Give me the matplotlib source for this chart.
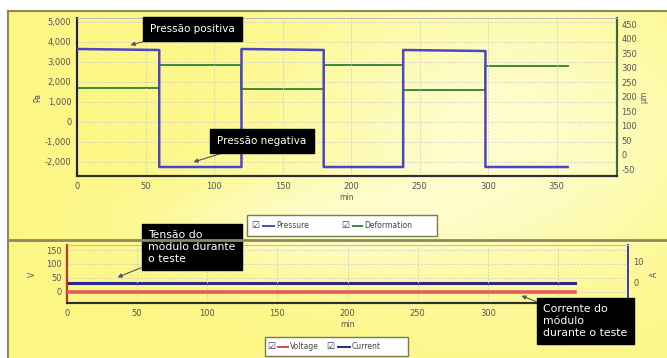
import numpy as np
import matplotlib
matplotlib.use("Agg")
import matplotlib.pyplot as plt
from matplotlib.lines import Line2D
from matplotlib.patches import Rectangle
from matplotlib.ticker import FuncFormatter

plt.rcParams["axes.unicode_minus"] = False

# pressure / deformation test (min)
t_press = [0, 60, 60, 120, 120, 180, 180, 238, 238, 298, 298, 358]
pressure = [3650, 3600, -2250, -2250, 3650, 3600, -2250, -2250, 3600, 3550, -2250, -2250]
deformation = [230, 230, 310, 310, 228, 228, 310, 310, 222, 222, 308, 308]

# electrical module data (min)
t_elec = [0, 362]
voltage = [0, 0]
current = [0.2, 0.2]

x_ticks = [0, 50, 100, 150, 200, 250, 300, 350]
x_labels_bottom = ["0", "50", "100", "150", "200", "250", "300", ""]
press_ticks = [-2000, -1000, 0, 1000, 2000, 3000, 4000, 5000]
deform_ticks = [-50, 0, 50, 100, 150, 200, 250, 300, 350, 400, 450]
volt_ticks = [0, 50, 100, 150]
curr_ticks = [0, 10]

W, H = 667, 358
fig = plt.figure(figsize=(W / 100, H / 100), dpi=100)


def fx(x):
    return x / W


def fy(y):
    return 1 - y / H


# yellow background
bg = fig.add_axes([fx(8), 0, 1 - fx(8), fy(11)])
gx, gy = np.meshgrid(np.linspace(0, 1, 200), np.linspace(0, 1, 120))
light = 0.7 * np.exp(-((gx - 0.75) ** 2 / 0.1 + (gy - 0.35) ** 2 / 0.2))
light += 0.45 * np.exp(-((gx - 0.45) ** 2 / 0.05 + (gy - 0.62) ** 2 / 0.02))
light = np.clip(light, 0, 1)[..., None]
yellow = np.array([0.99, 0.97, 0.52])
img = yellow * (1 - light) + np.array([1.0, 1.0, 0.93]) * light
bg.imshow(img, aspect="auto", extent=[0, 1, 0, 1], origin="upper")
bg.set_xlim(0, 1)
bg.set_ylim(0, 1)
bg.axis("off")

# frame lines
fig.add_artist(Line2D([fx(8), 1], [fy(11), fy(11)], color="#8c8a5a", lw=1.5))
fig.add_artist(Line2D([fx(8), fx(8)], [0, fy(11)], color="#8c8a5a", lw=1.5))
fig.add_artist(Line2D([fx(8), 1], [fy(240), fy(240)], color="#8c8a5a", lw=2))

tick_font = 6
comma = FuncFormatter(lambda v, p: f"{int(v):,}")

# ---------- top panel ----------
ax = fig.add_axes([fx(77), fy(176), fx(617) - fx(77), fy(18) - fy(176)])
ax.plot(t_press, pressure, color="#4b46c8", lw=1.8, zorder=3)
ax.set_xlim(0, 394)
ax.set_ylim(-2700, 5200)
ax.set_xticks(x_ticks)
ax.set_yticks(press_ticks)
ax.yaxis.set_major_formatter(comma)
ax.tick_params(labelsize=tick_font, length=0, colors="#555555", pad=4)
ax.grid(True, color="#c8c8d0", lw=0.6, ls=(0, (2, 2)))
ax.set_ylabel("Pa", fontsize=5.5, color="#555555", labelpad=2)
ax.set_xlabel("min", fontsize=5.5, color="#555555", labelpad=2)

ax2 = ax.twinx()
ax2.plot(t_press, deformation, color="#3b8a3b", lw=1.4, zorder=2)
ax2.set_ylim(-73, 472)
ax2.set_yticks(deform_ticks)
ax2.tick_params(labelsize=tick_font, length=0, colors="#555555", pad=3)
ax2.set_ylabel("µm", fontsize=5.5, color="#555555", labelpad=2)
ax.set_zorder(ax2.get_zorder() + 1)
ax.patch.set_visible(False)
ax2.set_facecolor("#f1f1f6")

for a in (ax, ax2):
    a.spines["top"].set_color("#bbbbbb")
    a.spines["top"].set_linewidth(0.6)
    a.spines["bottom"].set_color("#2e2e2e")
    a.spines["bottom"].set_linewidth(1.5)
    a.spines["left"].set_color("#23234a")
    a.spines["left"].set_linewidth(1.5)
    a.spines["right"].set_color("#3b6b3b")
    a.spines["right"].set_linewidth(1.5)

# ---------- bottom panel ----------
bx = fig.add_axes([fx(67), fy(303), fx(628) - fx(67), fy(245) - fy(303)])
bx.plot(t_elec, voltage, color="#e8595a", lw=2.6, zorder=3)
bx.set_xlim(0, 400)
bx.set_ylim(-40, 168)
bx.set_xticks(x_ticks)
bx.set_xticklabels(x_labels_bottom)
bx.set_yticks(volt_ticks)
bx.tick_params(labelsize=tick_font, length=0, colors="#555555", pad=4)
bx.grid(True, color="#c8c8d0", lw=0.6, ls=(0, (2, 2)))
bx.set_ylabel("V", fontsize=5.5, color="#555555", labelpad=6)
bx.set_xlabel("min", fontsize=5.5, color="#555555", labelpad=2)

bx2 = bx.twinx()
bx2.plot(t_elec, current, color="#2a2a8c", lw=2.2, zorder=2)
bx2.set_ylim(-9.5, 18)
bx2.set_yticks(curr_ticks)
bx2.tick_params(labelsize=tick_font, length=0, colors="#555555", pad=4)
bx2.set_ylabel("A", fontsize=5.5, color="#555555", labelpad=4)
bx.set_zorder(bx2.get_zorder() + 1)
bx.patch.set_visible(False)
bx2.set_facecolor("#f1f1f4")

for a in (bx, bx2):
    a.spines["top"].set_color("#bbbbbb")
    a.spines["top"].set_linewidth(0.6)
    a.spines["bottom"].set_color("#2e2e2e")
    a.spines["bottom"].set_linewidth(1.5)
    a.spines["left"].set_color("#c03030")
    a.spines["left"].set_linewidth(1.5)
    a.spines["right"].set_color("#3a3ab0")
    a.spines["right"].set_linewidth(1.2)


# ---------- legends (checkbox style) ----------
def draw_legend(x0, x1, y0, y1, items):
    fig.add_artist(Rectangle((fx(x0), fy(y1)), fx(x1) - fx(x0), fy(y0) - fy(y1),
                             facecolor="white", edgecolor="#7a7a5a", lw=1.0))
    yc = fy((y0 + y1) / 2)
    for cx, lx0, lx1, label, col in items:
        fig.text(fx(cx), yc, "\u2611", fontsize=6.5, color="#333366", ha="center", va="center")
        fig.add_artist(Line2D([fx(lx0), fx(lx1)], [yc, yc], color=col, lw=1.4))
        fig.text(fx(lx1 + 2), yc, label, fontsize=5.5, color="#444444", ha="left", va="center")


draw_legend(247, 437, 215, 236, [
    (255, 263, 274, "Pressure", "#4b46c8"),
    (345, 353, 362, "Deformation", "#3b8a3b"),
])
draw_legend(265, 408, 337, 356, [
    (271, 278, 288, "Voltage", "#e04848"),
    (330, 338, 350, "Current", "#2a2a8c"),
])

# ---------- annotations ----------
box = dict(boxstyle="square,pad=0.7", facecolor="black", edgecolor="black")
box_multi = dict(boxstyle="square,pad=0.6", facecolor="black", edgecolor="black")
arrow = dict(arrowstyle="-|>", color="#555555", lw=0.8, mutation_scale=6, shrinkA=0, shrinkB=0)

ax.annotate("Pressão positiva", xy=(39, 3850), xycoords="data",
            xytext=(fx(150), fy(29)), textcoords="figure fraction",
            fontsize=7.5, color="white", ha="left", va="center", bbox=box, arrowprops=arrow, zorder=10)
ax.annotate("Pressão negativa", xy=(85, -2000), xycoords="data",
            xytext=(fx(217), fy(141)), textcoords="figure fraction",
            fontsize=7.5, color="white", ha="left", va="center", bbox=box, arrowprops=arrow, zorder=10)
bx.annotate("Tensão do\nmódulo durante\no teste", xy=(36, 52), xycoords="data",
            xytext=(fx(148), fy(247)), textcoords="figure fraction",
            fontsize=7.8, color="white", ha="left", va="center", linespacing=1.2,
            bbox=box_multi, arrowprops=arrow, zorder=10, annotation_clip=False)
bx.annotate("Corrente do\nmódulo\ndurante o teste", xy=(324, -14), xycoords="data",
            xytext=(fx(543), fy(321)), textcoords="figure fraction",
            fontsize=7.8, color="white", ha="left", va="center", linespacing=1.2,
            bbox=box_multi, arrowprops=arrow, zorder=10, annotation_clip=False)

fig.savefig("out.png", dpi=100)
